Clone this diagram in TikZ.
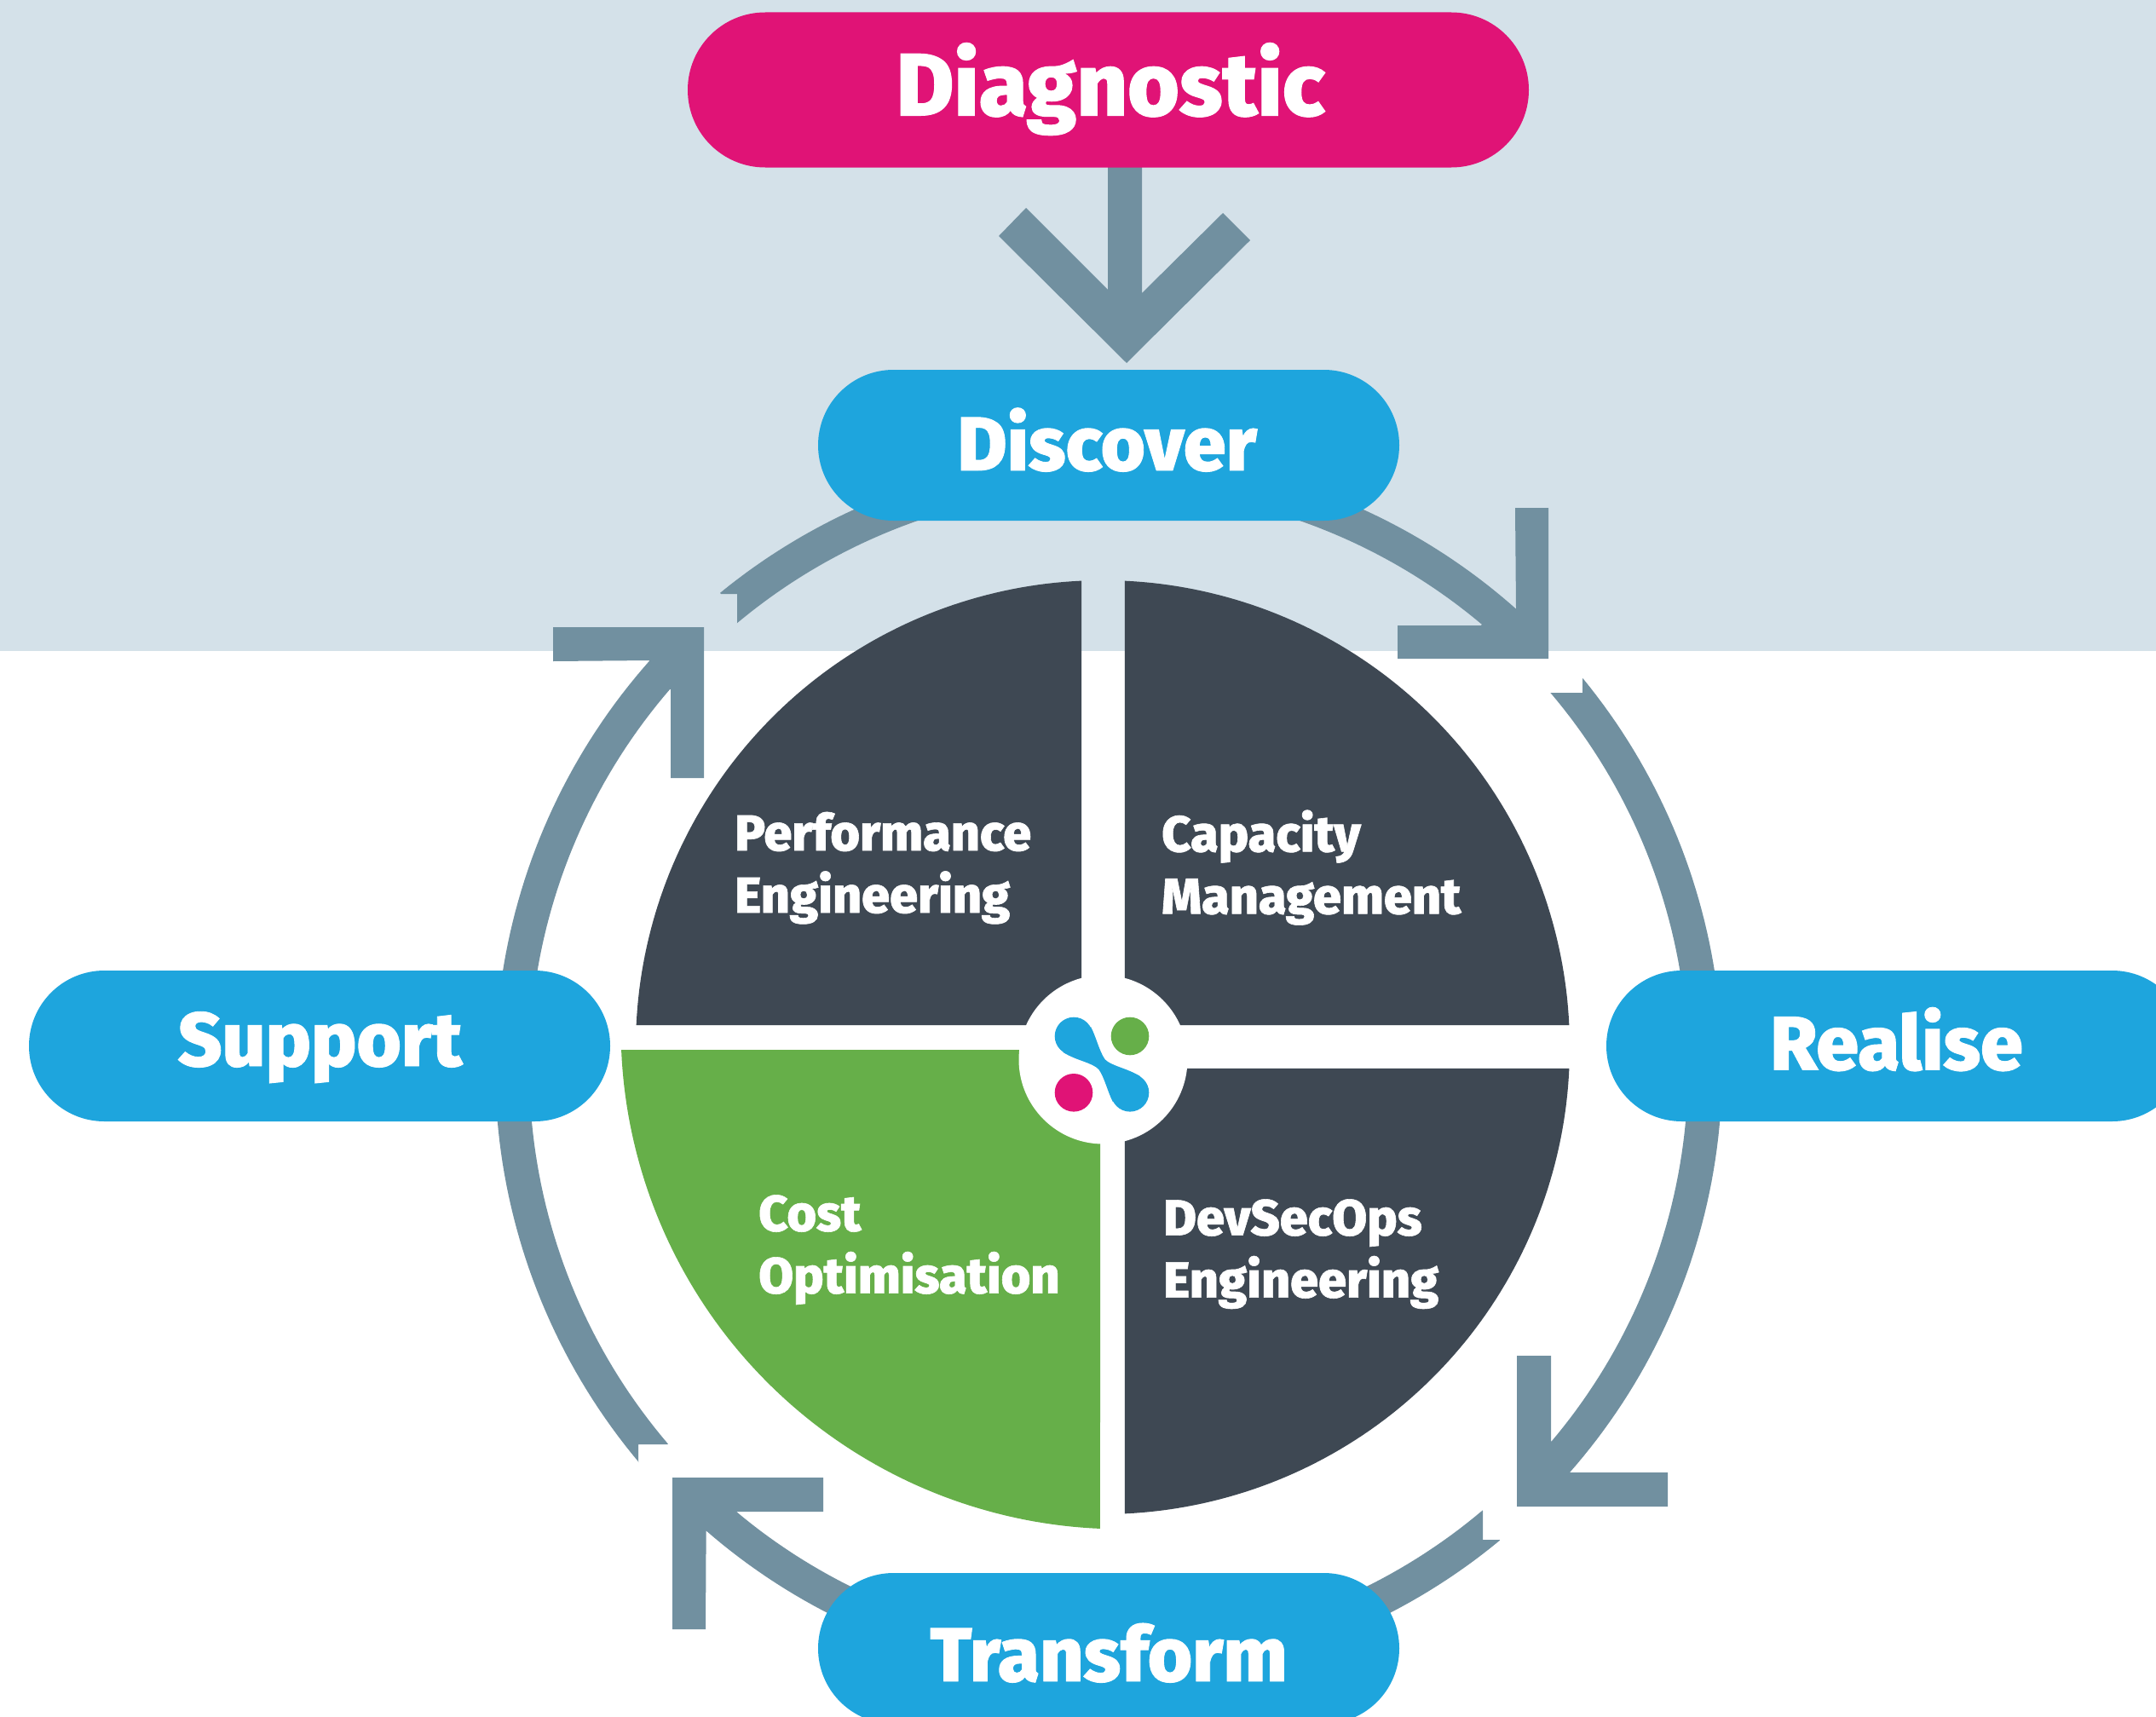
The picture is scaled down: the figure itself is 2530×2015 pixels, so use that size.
\documentclass[tikz,border=0pt]{standalone}
\usepackage{fontspec}
\setmainfont{Fira Sans ExtraBold}[FakeBold=1]
\definecolor{bgband}{RGB}{212,225,233}
\definecolor{ringc}{RGB}{113,144,160}
\definecolor{bluec}{RGB}{30,165,221}
\definecolor{magc}{RGB}{224,19,118}
\definecolor{greenc}{RGB}{102,175,73}
\definecolor{darkc}{RGB}{62,72,83}
\tikzset{
  pill/.style={fill=bluec,text=white,minimum width=682pt,minimum height=177pt,rounded corners=88.5pt,inner sep=0pt,text depth=0pt,font=\fontsize{89.5}{89.5}\selectfont},
  toppill/.style={pill,fill=magc,minimum width=987pt,minimum height=182pt,rounded corners=90.9pt,font=\fontsize{104}{104}\selectfont},
  quadlabel/.style={text=white,align=left,anchor=west,inner sep=0pt,font=\fontsize{59.4}{73}\selectfont,
    execute at begin node={\rule{0pt}{60pt}},execute at end node={\rule[-16pt]{0pt}{16pt}}},
  ringfill/.style={fill=ringc,draw=none}
}
\begin{document}
\begin{tikzpicture}[x=1pt,y=-1pt]
\clip (0,0) rectangle (2530,2015);
\fill[white] (0,0) rectangle (2530,2015);
\fill[bgband] (0,0) rectangle (2530,764);

% diagnostic arrow
\fill[ringfill] (1300,190) -- (1340,190) -- (1340,344) -- (1435,250) -- (1467,282) -- (1322,426) -- (1172,277) -- (1204,244) -- (1300,340) -- cycle;

% ring arrows: centre (1301,1253), radii 720 and 680
\fill[ringfill] (1301,533) -- plot[domain=-90:-48.4,samples=60] ({1301+720*cos(\x)},{1253+720*sin(\x)}) -- (1778,596) -- (1817,596) -- (1817,773) -- (1640,773) -- (1640,734) -- (1738,734) -- plot[domain=-49.9:-90,samples=60] ({1301+680*cos(\x)},{1253+680*sin(\x)}) -- cycle;
\fill[ringfill] (1819,813) -- (1857,813) -- (1857,797) -- plot[domain=-39.4:41.3,samples=80] ({1301+720*cos(\x)},{1253+720*sin(\x)}) -- (1957,1728) -- (1957,1768) -- (1780,1768) -- (1780,1591) -- (1820,1591) -- (1820,1693) -- plot[domain=40.3:-40.3,samples=80] ({1301+680*cos(\x)},{1253+680*sin(\x)}) -- cycle;
\fill[ringfill] (1740,1773) -- (1740,1807) -- (1760,1807) -- plot[domain=50.4:131,samples=80] ({1301+720*cos(\x)},{1253+720*sin(\x)}) -- (828,1912) -- (789,1912) -- (789,1734) -- (966,1734) -- (966,1774) -- (863,1774) -- plot[domain=130.05:49.8,samples=80] ({1301+680*cos(\x)},{1253+680*sin(\x)}) -- cycle;
\fill[ringfill] (783,1695) -- (749,1695) -- (749,1716) -- plot[domain=140:221.6,samples=80] ({1301+720*cos(\x)},{1253+720*sin(\x)}) -- (649,776) -- (649,736) -- (826,736) -- (826,913) -- (787,913) -- (787,809) -- plot[domain=220.8:139.5,samples=80] ({1301+680*cos(\x)},{1253+680*sin(\x)}) -- cycle;
\fill[ringfill] (865,731) -- (865,697) -- (846,697) -- plot[domain=230.7:270,samples=60] ({1301+720*cos(\x)},{1253+720*sin(\x)}) -- plot[domain=270:230.1,samples=60] ({1301+680*cos(\x)},{1253+680*sin(\x)}) -- cycle;

% quadrants
\fill[darkc] (1269,1203) -- plot[domain=182.7:267.4,samples=80] ({1294+548*cos(\x)},{1229+548*sin(\x)}) -- cycle;
\fill[darkc] (1320,1203) -- plot[domain=-2.7:-87.3,samples=80] ({1294+548*cos(\x)},{1229+548*sin(\x)}) -- cycle;
\fill[darkc] (1320,1254) -- plot[domain=2.6:87.3,samples=80] ({1294+548*cos(\x)},{1229+548*sin(\x)}) -- cycle;
\fill[greenc] (1291,1232) -- plot[domain=177.56:92.44,samples=80] ({1316+587.5*cos(\x)},{1207+587.5*sin(\x)}) -- cycle;
\fill[white] (1294.5,1243.5) circle[radius=99];

% logo
\fill[greenc] (1326,1216) circle[radius=22.3];
\fill[magc] (1260,1282.3) circle[radius=22.3];
\fill[bluec] (1260,1216) circle[radius=22.3];
\fill[bluec] (1326,1282.3) circle[radius=22.3];
\fill[bluec] (1280,1205) .. controls (1286,1216) and (1290,1234) .. (1296.7,1243.3) .. controls (1304,1251) and (1323,1253.6) .. (1338.3,1263.3) -- (1306,1293.3) .. controls (1300,1282) and (1296,1264) .. (1289.3,1255) .. controls (1282,1247) and (1263,1244.7) .. (1247.7,1235) -- cycle;

% pills
\node[toppill,text height=60pt] (diagnostic) at (1300.5,105.5) {\hspace*{5pt}Diagnostic};
\node[pill,text height=59pt] (discover) at (1301,522.5) {\hspace*{-4pt}Discover};
\node[pill,text height=47pt] (support) at (375,1227.5) {\hspace*{1pt}Support};
\node[pill,text height=56pt] (realise) at (2226,1227.5) {\hspace*{-1pt}Realise};
\node[pill,text height=77pt] (transform) at (1301,1934.5) {Transform};

% quadrant labels
\node[quadlabel] (perf) at (862,1020) {Performance\\Engineering};
\node[quadlabel] (capa) at (1363,1019.5) {Capacity\\Management};
\node[quadlabel] (devs) at (1365,1473) {DevSecOps\\Engineering};
\node[quadlabel] (cost) at (890,1468) {Cost\\Optimisation};
\end{tikzpicture}
\end{document}
